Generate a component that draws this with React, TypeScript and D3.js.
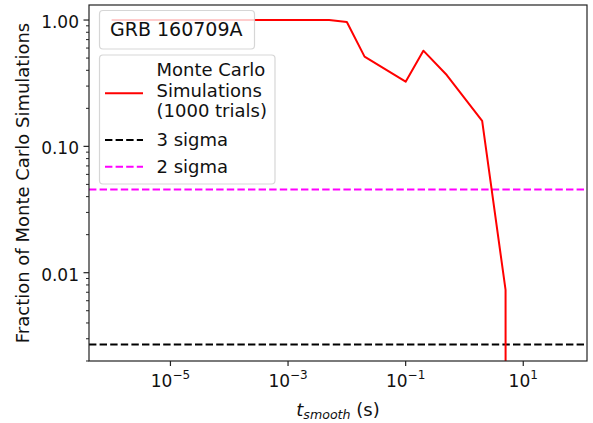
import React from 'react';
import * as d3 from 'd3';

// ---- data ----
const timescales = [1e-6, 2e-6, 5e-6, 1e-5, 2e-5, 5e-5, 1e-4, 2e-4, 5e-4, 1e-3, 2e-3, 5e-3, 0.01, 0.02, 0.1, 0.2, 0.5, 2, 5, 10, 20, 50];
const fractions = [1, 1, 1, 1, 1, 1, 1, 1, 1, 1, 1, 1, 0.965, 0.513, 0.325, 0.572, 0.367, 0.159, 0.0073, 0, 0, 0];
const sigmaValues = [0.0027, 0.0455];
const sigmaLabels = ['3 sigma', '2 sigma'];
const sigmaColors = ['#000000', '#ff00ff'];
const seriesLabel = ['Monte Carlo', 'Simulations', '(1000 trials)'];
const title = 'GRB 160709A';
const xTickExps = [-5, -3, -1, 1];
const yTicks = [0.01, 0.1, 1];
const yTickLabels = ['0.01', '0.10', '1.00'];

const W = 593, H = 423;
const L = 89, R = 587, T = 5, B = 361;
const FONT = 'DejaVu Sans, sans-serif';

export default function App() {
  const x = d3.scaleLog().domain([Math.pow(10, -6.385), Math.pow(10, 2.084)]).range([L, R]);
  const y = d3.scaleLog().domain([Math.pow(10, -2.699), Math.pow(10, 0.119)]).range([B, T]);

  const pts = timescales.map((t, i) => [t, fractions[i]] as [number, number]);
  const line = d3.line<[number, number]>()
    .x(d => x(d[0]))
    .y(d => y(Math.max(d[1], 1e-300)));

  const minorY: number[] = [];
  for (let k = -3; k <= 0; k++) {
    for (let m = 2; m <= 9; m++) {
      const v = m * Math.pow(10, k);
      if (v >= y.domain()[0] && v <= y.domain()[1]) minorY.push(v);
    }
  }

  const fs = 18;
  return (
    <svg width={W} height={H} style={{ position: 'absolute', left: 0, top: 0, background: '#fff' }} fontFamily={FONT}>
      <defs>
        <clipPath id="plot">
          <rect x={L} y={T} width={R - L} height={B - T} />
        </clipPath>
      </defs>
      <rect x={0} y={0} width={W} height={H} fill="#fff" />
      <g clipPath="url(#plot)">
        {sigmaValues.map((v, i) => (
          <line key={i} x1={L} x2={R} y1={y(v)} y2={y(v)} stroke={sigmaColors[i]} strokeWidth={2} strokeDasharray="7.4,3.2" />
        ))}
        <path d={line(pts) || ''} fill="none" stroke="#ff0000" strokeWidth={2} strokeLinejoin="round" />
      </g>
      {/* spines */}
      <rect x={L} y={T} width={R - L} height={B - T} fill="none" stroke="#222" strokeWidth={1.2} />
      {/* y ticks */}
      {minorY.map((v, i) => (
        <line key={'my' + i} x1={L - 3} x2={L} y1={y(v)} y2={y(v)} stroke="#222" strokeWidth={1} />
      ))}
      {yTicks.map((v, i) => (
        <g key={'y' + i}>
          <line x1={L - 5.5} x2={L} y1={y(v)} y2={y(v)} stroke="#222" strokeWidth={1.2} />
          <text x={L - 10} y={y(v) + 8} textAnchor="end" fontSize={17} fill="#111">{yTickLabels[i]}</text>
        </g>
      ))}
      {/* x ticks */}
      {xTickExps.map((e, i) => {
        const px = x(Math.pow(10, e));
        return (
          <g key={'x' + i}>
            <line x1={px} x2={px} y1={B} y2={B + 5} stroke="#222" strokeWidth={1.2} />
            <text x={px} y={386.5} textAnchor="middle" fontSize={17} fill="#111">
              <tspan>10</tspan>
              <tspan fontSize={12} dy={-8}>{e < 0 ? '\u2212' + Math.abs(e) : String(e)}</tspan>
            </text>
          </g>
        );
      })}
      {/* axis labels */}
      <text x={(L + R) / 2} y={416} textAnchor="middle" fontSize={fs} fill="#111">
        <tspan fontStyle="italic">t</tspan>
        <tspan fontStyle="italic" fontSize={12.6} dy={3}>smooth</tspan>
        <tspan dy={-3}>{' (s)'}</tspan>
      </text>
      <text transform={`translate(29,${(T + B) / 2}) rotate(-90)`} textAnchor="middle" fontSize={fs} fill="#111">
        Fraction of Monte Carlo Simulations
      </text>
      {/* title box */}
      <rect x={99.5} y={10.5} width={155} height={38.5} rx={3.5} fill="#fff" fillOpacity={0.8} stroke="#ccc" strokeOpacity={0.8} strokeWidth={1.2} />
      <text x={110} y={36} fontSize={19} fill="#111">{title}</text>
      {/* legend */}
      <rect x={99.5} y={55} width={175.5} height={129} rx={3.5} fill="#fff" fillOpacity={0.8} stroke="#ccc" strokeOpacity={0.8} strokeWidth={1.2} />
      <line x1={105} x2={143} y1={93.3} y2={93.3} stroke="#ff0000" strokeWidth={2} />
      {seriesLabel.map((s, i) => (
        <text key={'sl' + i} x={156.5} y={76 + i * 20.5} fontSize={fs} fill="#111">{s}</text>
      ))}
      {sigmaLabels.map((s, i) => (
        <g key={'sg' + i}>
          <line x1={105} x2={143} y1={140 + i * 26.7} y2={140 + i * 26.7} stroke={sigmaColors[i]} strokeWidth={2} strokeDasharray="7.4,3.2" />
          <text x={156.5} y={146 + i * 26.7} fontSize={fs} fill="#111">{s}</text>
        </g>
      ))}
    </svg>
  );
}
